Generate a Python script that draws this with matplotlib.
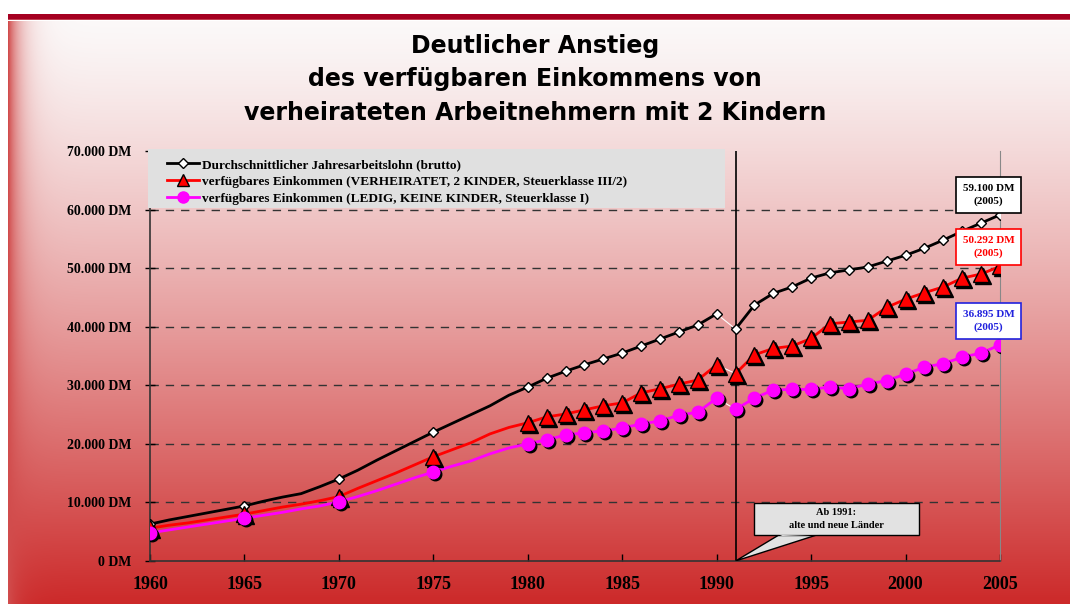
import numpy as np
import matplotlib
matplotlib.use("Agg")
import matplotlib.pyplot as plt
from matplotlib.lines import Line2D
from matplotlib.patches import Rectangle, Polygon
from matplotlib.transforms import ScaledTranslation

# --- data ---
years = list(range(1960, 2006))
brutto = [6300, 7000, 7600, 8200, 8800, 9400, 10200, 10900, 11500, 12700,
          14000, 15500, 17200, 18800, 20400, 22000, 23500, 25000, 26500, 28300,
          29700, 31200, 32400, 33500, 34500, 35500, 36700, 37900, 39100, 40300,
          42200,
          39600, 43700, 45700, 46800, 48300, 49200, 49700, 50200, 51200, 52200,
          53400, 54800, 56300, 57700, 59100]
verheiratet = [5600, 6100, 6500, 7000, 7500, 8000, 8600, 9200, 9700, 10300,
               11000, 12400, 13700, 15000, 16400, 17800, 19000, 20200, 21700, 22800,
               23600, 24600, 25100, 25800, 26500, 27000, 28700, 29400, 30200, 30900,
               33500,
               32000, 35200, 36300, 36700, 38000, 40500, 40800, 41100, 43300, 44700,
               45800, 46800, 48300, 49000, 50292]
ledig = [4800, 5300, 5800, 6300, 6800, 7300, 7800, 8300, 8900, 9400,
         10100, 11000, 12000, 13100, 14200, 15200, 16200, 17100, 18300, 19300,
         20000, 20700, 21500, 21900, 22200, 22700, 23400, 23900, 24900, 25400,
         27800,
         25900, 27800, 29200, 29300, 29300, 29700, 29400, 30200, 30800, 31900,
         33100, 33700, 34800, 35500, 36895]
marker_years = [1960, 1965, 1970, 1975] + list(range(1980, 2006))
break_year = 1991

series_labels = ["Durchschnittlicher Jahresarbeitslohn (brutto)",
                 "verfügbares Einkommen (VERHEIRATET, 2 KINDER, Steuerklasse III/2)",
                 "verfügbares Einkommen (LEDIG, KEINE KINDER, Steuerklasse I)"]
end_labels = ["59.100 DM\n(2005)", "50.292 DM\n(2005)", "36.895 DM\n(2005)"]
yticks = list(range(0, 70001, 10000))
ytick_labels = ["0 DM"] + [f"{v // 1000}.000 DM" for v in yticks[1:]]
xticks = list(range(1960, 2006, 5))

title = ("Deutlicher Anstieg\ndes verfügbaren Einkommens von\n"
         "verheirateten Arbeitnehmern mit 2 Kindern")
callout = "Ab 1991:\nalte und neue Länder"

W, H = 1070, 604
fig = plt.figure(figsize=(W / 100, H / 100), dpi=100)
fig.patch.set_facecolor("white")

# --- slide background: white top, red bottom, red fade on the left ---
yy = np.arange(H)[:, None].astype(float)
xx = np.arange(W)[None, :].astype(float)
top = np.array([0.985, 0.975, 0.975])
bot = np.array([0.80, 0.16, 0.16])
t = np.clip((yy - 21) / (H - 21), 0, 1) ** 1.25
img = top[None, None, :] * (1 - t[..., None]) + bot[None, None, :] * t[..., None]
img = np.broadcast_to(img, (H, W, 3)).copy()
edge = np.array([0.82, 0.30, 0.30])
w = np.exp(-np.clip(xx - 8, 0, None) / 12.0)[..., None]
img = img * (1 - w) + edge[None, None, :] * w
img[:, :8] = 1.0
img[:21] = 1.0
img[14:19, 8:] = [0.65, 0.0, 0.13]
img[19:20, 8:] = [0.75, 0.25, 0.32]
bg = fig.add_axes([0, 0, 1, 1], zorder=-10)
bg.imshow(img, aspect="auto", extent=(0, 1, 0, 1))
bg.axis("off")

fig.text(0.5, 1 - 79 / H, title, ha="center", va="center", fontsize=17,
         fontweight="bold", family="DejaVu Sans", linespacing=1.5)

# --- plot area ---
ax = fig.add_axes([150 / W, 1 - 561 / H, 850 / W, 410 / H])
ax.set_facecolor("none")
ax.set_xlim(1960, 2005)
ax.set_ylim(0, 70000)

serif = dict(family="Liberation Serif", fontweight="bold")
ax.set_yticks(yticks)
ax.set_yticklabels(ytick_labels, **serif, fontsize=10)
ax.set_xticks(xticks)
ax.set_xticklabels([str(x) for x in xticks], **serif, fontsize=13)
ax.tick_params(axis="y", direction="inout", length=7, width=1, pad=10)
ax.tick_params(axis="x", direction="in", length=5, width=1, pad=11)
for s in ("left", "bottom"):
    ax.spines[s].set_color("#333333")
    ax.spines[s].set_linewidth(1.2)
ax.spines["top"].set_visible(False)
ax.spines["right"].set_color("#888888")
ax.spines["right"].set_linewidth(0.8)

for v in yticks[1:-1]:
    ax.axhline(v, color="#333333", lw=1, ls=(0, (6, 5)), zorder=1)
ax.axvline(break_year, color="black", lw=1.2, zorder=2)

shadow = ax.transData + ScaledTranslation(2 / 100, -2 / 100, fig.dpi_scale_trans)
yrs = np.array(years)
pre = yrs < break_year
post = ~pre
mk = np.isin(yrs, marker_years)

styles = [
    (brutto, "black", dict(marker="D", ms=5, mfc="white", mec="black", mew=1), False),
    (verheiratet, "red", dict(marker="^", ms=11, mfc="red", mec="black", mew=1), True),
    (ledig, "magenta", dict(marker="o", ms=9, mfc="magenta", mec="magenta", mew=1), True),
]
for vals, col, mstyle, has_shadow in styles:
    v = np.array(vals)
    # thin white link across the 1990/1991 break
    ax.plot([1990, 1991], [v[yrs == 1990][0], v[yrs == 1991][0]],
            color="white", lw=0.8, zorder=3)
    for part in (pre, post):
        ax.plot(yrs[part], v[part], color=col, lw=2, zorder=4)
        if has_shadow:
            ax.plot(yrs[part & mk], v[part & mk], ls="none", marker=mstyle["marker"],
                    ms=mstyle["ms"], mfc="black", mec="black", transform=shadow,
                    zorder=4.5)
        ax.plot(yrs[part & mk], v[part & mk], ls="none", zorder=5, **mstyle)

# --- value boxes at 2005 ---
box_y = [62500, 53600, 41000]
box_col = ["black", "red", "#2222dd"]
for lab, yv, c in zip(end_labels, box_y, box_col):
    ax.text(2004.4, yv, lab, ha="center", va="center", color=c, fontsize=8,
            **serif, linespacing=1.55,
            bbox=dict(boxstyle="square,pad=0.6", fc="white", ec=c, lw=1.2),
            zorder=6)

# --- callout (speech bubble) ---
bx0, bx1, by0, by1 = 1991.95, 2000.7, 4450, 9900
ax.add_patch(Polygon([(break_year, 0), (1993.4, by0 + 200), (1995.5, by0 + 200)],
                     closed=True, fc="#e2e2e2", ec="black", lw=1, zorder=6))
ax.add_patch(Rectangle((bx0, by0), bx1 - bx0, by1 - by0, fc="#e2e2e2",
                       ec="black", lw=1, zorder=6))
ax.add_patch(Polygon([(1993.3, by0 + 60), (1993.48, by0 - 180), (1995.5, by0 + 60)],
                     closed=True, fc="#e2e2e2", ec="none", zorder=6.5))
ax.text((bx0 + bx1) / 2, (by0 + by1) / 2, callout, ha="center", va="center",
        fontsize=7.5, **serif, linespacing=1.7, zorder=7)

# --- legend on grey band ---
fig.patches.append(Rectangle((148 / W, 1 - 208 / H), 577 / W, 59 / H,
                             transform=fig.transFigure, fc="#e0e0e0", ec="none",
                             zorder=1))
handles = [
    Line2D([], [], color="black", lw=2, marker="D", ms=5, mfc="white", mec="black"),
    Line2D([], [], color="red", lw=2, marker="^", ms=9, mfc="red", mec="black"),
    Line2D([], [], color="magenta", lw=2, marker="o", ms=8, mfc="magenta", mec="magenta"),
]
leg = fig.legend(handles, series_labels, loc="upper left",
                 bbox_to_anchor=(155 / W, 1 - 147 / H), frameon=False,
                 prop=dict(family="Liberation Serif", weight="bold", size=9.5),
                 handlelength=2.4, handletextpad=0.3, labelspacing=0.35)

fig.savefig("out.png", dpi=100)
